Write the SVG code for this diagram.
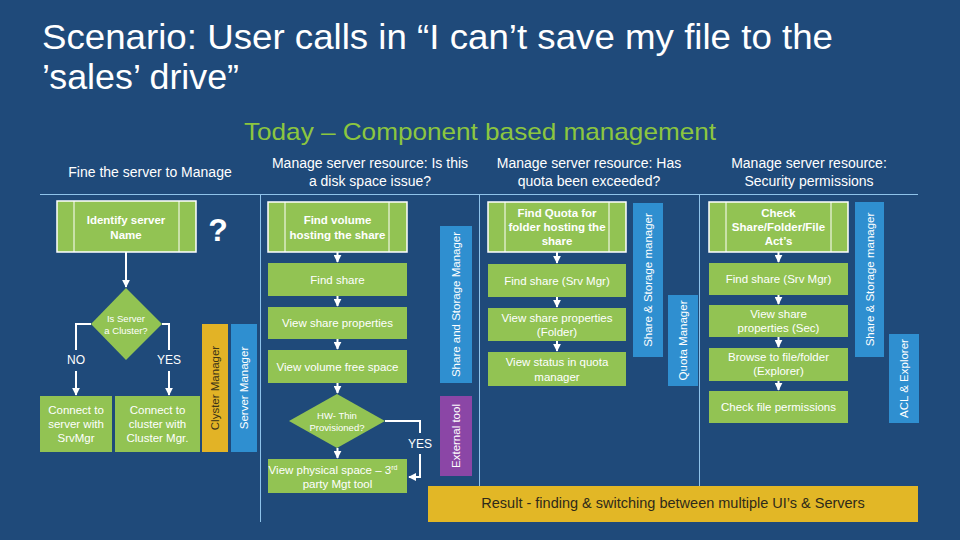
<svg xmlns="http://www.w3.org/2000/svg" width="960" height="540" viewBox="0 0 960 540">
<defs>
<marker id="ah" viewBox="0 0 10 10" refX="9" refY="5" markerWidth="4" markerHeight="4" orient="auto-start-reverse" markerUnits="strokeWidth">
<path d="M0,0 L10,5 L0,10 z" fill="#ffffff"/>
</marker>
<style>
text{font-family:"Liberation Sans","Noto Sans",Arial,sans-serif;}
.title{fill:#ffffff;font-family:"Liberation Sans",Arial,sans-serif;font-size:35px;}
.sub{fill:#8cc63f;font-family:"Liberation Sans",Arial,sans-serif;font-size:24px;}
.hdr{fill:#ffffff;font-size:14px;text-anchor:middle;}
.box{fill:#92c353;}
.pbox{fill:#92c353;stroke:#ffffff;stroke-width:1.5;}
.inner{stroke:#ffffff;stroke-width:1;}
.bt{fill:#ffffff;font-size:11.5px;text-anchor:middle;}
.bb{fill:#ffffff;font-size:11.5px;font-weight:bold;text-anchor:middle;}
.dt{fill:#ffffff;font-size:9.5px;text-anchor:middle;}
.lbl{fill:#ffffff;font-size:12px;text-anchor:middle;}
.bar{fill:#2f8fd0;}
.vt{fill:#ffffff;font-size:11.5px;text-anchor:middle;}
.conn{stroke:#ffffff;stroke-width:2;fill:none;}
.arr{stroke:#ffffff;stroke-width:2;fill:none;marker-end:url(#ah);}
.sep{stroke:#8fc3ea;stroke-width:1;fill:none;}
</style>
</defs>
<rect x="0" y="0" width="960" height="540" fill="#1f4a7a"/>

<g id="title">
<text class="title" x="42" y="49" textLength="791" lengthAdjust="spacingAndGlyphs">Scenario: User calls in “I can’t save my file to the</text>
<text class="title" x="42" y="89" textLength="197" lengthAdjust="spacingAndGlyphs">’sales’ drive”</text>
<text class="sub" x="244" y="140" textLength="472" lengthAdjust="spacingAndGlyphs">Today – Component based management</text>
</g>

<g id="headers">
<text class="hdr" x="150" y="177">Fine the server to Manage</text>
<text class="hdr" x="370" y="168">Manage server resource: Is this</text>
<text class="hdr" x="370" y="186">a disk space issue?</text>
<text class="hdr" x="589" y="168">Manage server resource: Has</text>
<text class="hdr" x="589" y="186">quota been exceeded?</text>
<text class="hdr" x="809" y="168">Manage server resource:</text>
<text class="hdr" x="809" y="186">Security permissions</text>
</g>

<g id="separators">
<line class="sep" x1="40" y1="194.5" x2="918" y2="194.5"/>
<line class="sep" x1="260.5" y1="194" x2="260.5" y2="522"/>
<line class="sep" x1="479.5" y1="194" x2="479.5" y2="486"/>
<line class="sep" x1="699.5" y1="194" x2="699.5" y2="486"/>
</g>

<g id="connectors">
<line class="arr" x1="126" y1="252" x2="126" y2="287"/>
<polyline class="conn" points="91,324 76,324 76,350"/>
<line class="arr" x1="76" y1="371" x2="76" y2="395"/>
<polyline class="conn" points="162,324 169,324 169,350"/>
<line class="arr" x1="169" y1="371" x2="169" y2="395"/>
<line class="arr" x1="337.5" y1="252" x2="337.5" y2="262"/>
<line class="arr" x1="337.5" y1="296" x2="337.5" y2="306"/>
<line class="arr" x1="337.5" y1="339" x2="337.5" y2="349"/>
<line class="arr" x1="337.5" y1="383" x2="337.5" y2="393"/>
<line class="arr" x1="337.5" y1="448" x2="337.5" y2="458"/>
<polyline class="conn" points="385,421 420,421 420,433"/>
<polyline class="arr" points="420,454 420,477 409,477"/>
<line class="arr" x1="557" y1="252" x2="557" y2="263"/>
<line class="arr" x1="557" y1="297" x2="557" y2="307"/>
<line class="arr" x1="557" y1="341" x2="557" y2="351"/>
<line class="arr" x1="778.5" y1="252" x2="778.5" y2="262"/>
<line class="arr" x1="778.5" y1="295" x2="778.5" y2="304"/>
<line class="arr" x1="778.5" y1="337" x2="778.5" y2="347"/>
<line class="arr" x1="778.5" y1="381" x2="778.5" y2="390"/>
<text class="lbl" x="76" y="364">NO</text>
<text class="lbl" x="169" y="364">YES</text>
<text class="lbl" x="420" y="448">YES</text>
</g>

<g id="identify-server">
<rect class="pbox" x="57" y="201" width="139" height="51"/>
<line class="inner" x1="74" y1="201" x2="74" y2="252"/>
<line class="inner" x1="179" y1="201" x2="179" y2="252"/>
<text class="bb" x="126" y="224">Identify server</text>
<text class="bb" x="126" y="239">Name</text>
</g>
<g id="question">
<text x="218" y="241" fill="#ffffff" font-size="32" font-weight="bold" text-anchor="middle">?</text>
</g>
<g id="is-cluster">
<polygon class="box" points="126,288 162,324 126,360 91,324"/>
<text class="dt" x="126" y="322">Is Server</text>
<text class="dt" x="126" y="334">a Cluster?</text>
</g>
<g id="connect-server">
<rect class="box" x="40" y="396" width="72" height="56"/>
<text class="bt" x="76" y="414">Connect to</text>
<text class="bt" x="76" y="428">server with</text>
<text class="bt" x="76" y="442">SrvMgr</text>
</g>
<g id="connect-cluster">
<rect class="box" x="115" y="396" width="85" height="56"/>
<text class="bt" x="157.5" y="414">Connect to</text>
<text class="bt" x="157.5" y="428">cluster with</text>
<text class="bt" x="157.5" y="442">Cluster Mgr.</text>
</g>
<g id="clyster-manager">
<rect x="202" y="324" width="26" height="128" fill="#e2b326"/>
<text class="vt" style="fill:#3b3418" transform="translate(219,388) rotate(-90)">Clyster Manager</text>
</g>
<g id="server-manager">
<rect class="bar" x="231" y="324" width="26" height="128"/>
<text class="vt" transform="translate(248,388) rotate(-90)">Server Manager</text>
</g>

<g id="find-volume">
<rect class="pbox" x="268" y="202" width="139" height="50"/>
<line class="inner" x1="285" y1="202" x2="285" y2="252"/>
<line class="inner" x1="389" y1="202" x2="389" y2="252"/>
<text class="bb" x="337.5" y="224">Find volume</text>
<text class="bb" x="337.5" y="239">hosting the share</text>
</g>
<g id="find-share-1">
<rect class="box" x="268" y="263" width="139" height="33"/>
<text class="bt" x="337.5" y="284">Find share</text>
</g>
<g id="view-share-props-1">
<rect class="box" x="268" y="307" width="139" height="32"/>
<text class="bt" x="337.5" y="327">View share properties</text>
</g>
<g id="view-volume-free">
<rect class="box" x="268" y="350" width="139" height="33"/>
<text class="bt" x="337.5" y="371">View volume free space</text>
</g>
<g id="hw-thin">
<polygon class="box" points="337,394 385,421 337,448 289,421"/>
<text class="dt" x="337" y="419">HW- Thin</text>
<text class="dt" x="337" y="431">Provisioned?</text>
</g>
<g id="view-physical">
<rect class="box" x="268" y="459" width="139" height="34"/>
<text class="bt" x="333" y="474">View physical space – 3<tspan font-size="7" dy="-4">rd</tspan></text>
<text class="bt" x="337.5" y="488">party Mgt tool</text>
</g>
<g id="share-storage-manager-1">
<rect class="bar" x="440" y="226" width="32" height="157"/>
<text class="vt" transform="translate(460,304.5) rotate(-90)">Share and Storage Manager</text>
</g>
<g id="external-tool">
<rect x="440" y="396" width="32" height="80" fill="#8b46a6"/>
<text class="vt" transform="translate(460,436) rotate(-90)">External tool</text>
</g>

<g id="find-quota">
<rect class="pbox" x="488" y="202" width="138" height="50"/>
<line class="inner" x1="505" y1="202" x2="505" y2="252"/>
<line class="inner" x1="609" y1="202" x2="609" y2="252"/>
<text class="bb" x="557" y="217">Find Quota for</text>
<text class="bb" x="557" y="231">folder hosting the</text>
<text class="bb" x="557" y="245">share</text>
</g>
<g id="find-share-2">
<rect class="box" x="488" y="264" width="138" height="33"/>
<text class="bt" x="557" y="285">Find share (Srv Mgr)</text>
</g>
<g id="view-share-props-2">
<rect class="box" x="488" y="308" width="138" height="33"/>
<text class="bt" x="557" y="322">View share properties</text>
<text class="bt" x="557" y="336">(Folder)</text>
</g>
<g id="view-status-quota">
<rect class="box" x="488" y="352" width="138" height="34"/>
<text class="bt" x="557" y="366">View status in quota</text>
<text class="bt" x="557" y="381">manager</text>
</g>
<g id="share-storage-manager-2">
<rect class="bar" x="633" y="203" width="30" height="154"/>
<text class="vt" transform="translate(652,280) rotate(-90)">Share &amp; Storage manager</text>
</g>
<g id="quota-manager">
<rect class="bar" x="668" y="295" width="30" height="91"/>
<text class="vt" transform="translate(687,340.5) rotate(-90)">Quota Manager</text>
</g>

<g id="check-acls">
<rect class="pbox" x="709" y="202" width="139" height="50"/>
<line class="inner" x1="726" y1="202" x2="726" y2="252"/>
<line class="inner" x1="831" y1="202" x2="831" y2="252"/>
<text class="bb" x="778.5" y="217">Check</text>
<text class="bb" x="778.5" y="231">Share/Folder/File</text>
<text class="bb" x="778.5" y="245">Act’s</text>
</g>
<g id="find-share-3">
<rect class="box" x="709" y="263" width="139" height="32"/>
<text class="bt" x="778.5" y="283">Find share (Srv Mgr)</text>
</g>
<g id="view-share-props-3">
<rect class="box" x="709" y="305" width="139" height="32"/>
<text class="bt" x="778.5" y="318">View share</text>
<text class="bt" x="778.5" y="332">properties (Sec)</text>
</g>
<g id="browse-explorer">
<rect class="box" x="709" y="348" width="139" height="33"/>
<text class="bt" x="778.5" y="361">Browse to file/folder</text>
<text class="bt" x="778.5" y="375">(Explorer)</text>
</g>
<g id="check-file-perms">
<rect class="box" x="709" y="391" width="139" height="32"/>
<text class="bt" x="778.5" y="411">Check file permissions</text>
</g>
<g id="share-storage-manager-3">
<rect class="bar" x="855" y="202" width="29" height="155"/>
<text class="vt" transform="translate(873.5,279.5) rotate(-90)">Share &amp; Storage manager</text>
</g>
<g id="acl-explorer">
<rect class="bar" x="889" y="334" width="30" height="89"/>
<text class="vt" transform="translate(908,378.5) rotate(-90)">ACL &amp; Explorer</text>
</g>

<g id="result">
<rect x="428" y="486" width="490" height="36" fill="#e2b726"/>
<text x="673" y="508" fill="#2e2a1a" font-size="14.5" text-anchor="middle">Result - finding &amp; switching between multiple UI’s &amp; Servers</text>
</g>
</svg>
